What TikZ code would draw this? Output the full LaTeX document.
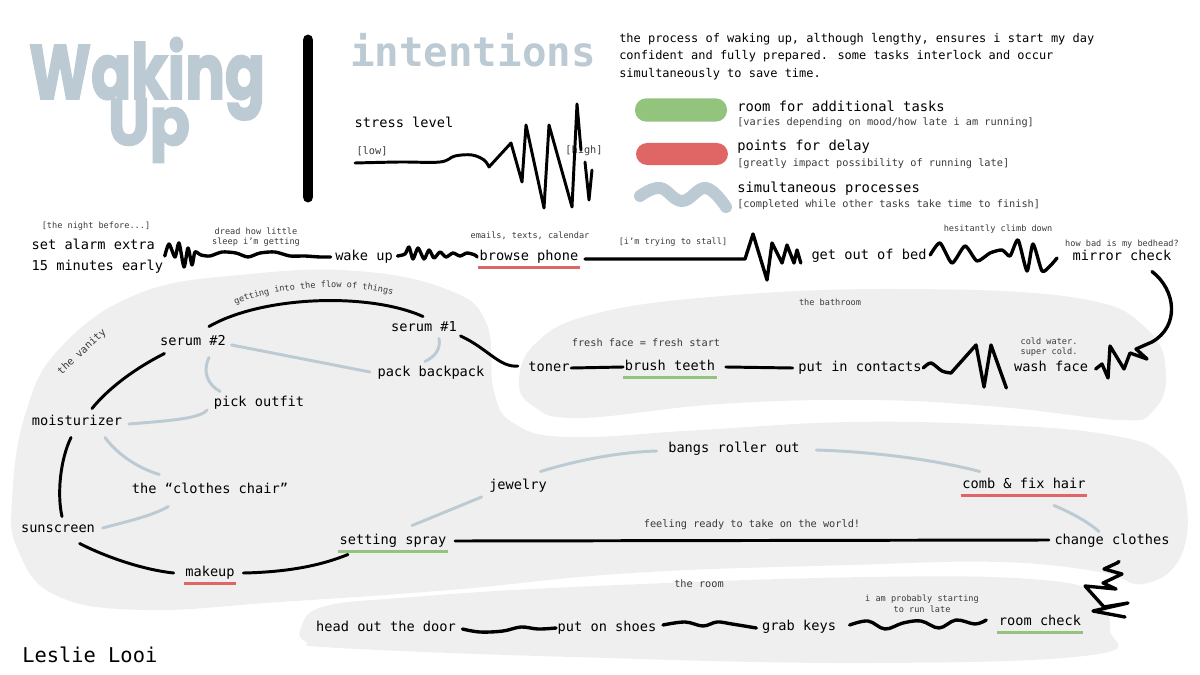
\documentclass[tikz,border=0pt]{standalone}
\usepackage{fontspec}
\setmainfont{DejaVu Sans Mono}
\newfontfamily\titlefont{Poppins}[BoldFeatures={FakeBold=2.5}]
\usetikzlibrary{decorations.text}

\definecolor{simblue}{HTML}{BCCAD3}
\definecolor{extragreen}{HTML}{93C47D}
\definecolor{delayred}{HTML}{E06666}
\definecolor{blobgray}{HTML}{EFEFEF}
\definecolor{notegray}{HTML}{3A3A3A}

\tikzset{
  lbl/.style={font=\fontsize{9.7}{15}\selectfont, inner sep=1pt},
  task/.style={lbl, text height=7.5pt, text depth=2.2pt},
  note/.style={font=\fontsize{6.1}{7.6}\selectfont, text=notegray, align=center, inner sep=1pt},
  bignote/.style={note, font=\fontsize{7.3}{9}\selectfont},
  legendtitle/.style={font=\fontsize{9.8}{11}\selectfont, anchor=west, inner sep=0pt},
  legendsub/.style={font=\fontsize{7.3}{9}\selectfont, text=notegray, anchor=west, inner sep=0pt},
  pill/.style={rounded corners=0.28cm, minimum width=2.3cm, minimum height=0.58cm, inner sep=0pt},
  flowline/.style={line width=2.1pt, line cap=round, line join=round},
  scribble/.style={line width=2.4pt, line cap=round, line join=round},
  simul/.style={draw=simblue, line width=2.1pt, line cap=round},
  extraline/.style={draw=extragreen, line width=2.1pt},
  delayline/.style={draw=delayred, line width=2.1pt},
}

\begin{document}
\begin{tikzpicture}[x=0.025cm, y=-0.025cm]
  \useasboundingbox (0,0) rectangle (1200,675);

  % draw the rooms
  \fill[blobgray] plot[smooth cycle, tension=0.7] coordinates {(12,500) (25,415) (60,348) (140,293) (250,274) (357,271) (446,289) (486,322) (494,392) (515,424) (570,437) (700,430) (850,422) (1000,425) (1110,435) (1163,455) (1186,500) (1180,558) (1143,584) (1100,572) (1000,562) (850,565) (632,573) (450,590) (280,602) (143,610) (55,595) (18,550)};
  \fill[blobgray] plot[smooth cycle, tension=0.7] coordinates {(519,380) (536,343) (590,315) (710,297) (893,289) (1077,298) (1148,330) (1166,377) (1152,412) (1120,420) (1000,407) (870,400) (720,404) (580,418) (533,406)};
  \fill[blobgray] plot[smooth cycle, tension=0.7] coordinates {(301,628) (322,607) (400,598) (573,587) (867,577) (1043,580) (1096,597) (1110,630) (1092,655) (867,663) (573,657) (339,648) (306,642)};

  % draw title block
  \node[font=\titlefont\bfseries\fontsize{42}{42}\selectfont, text=simblue, anchor=base] (title) at (147,99) {\scalebox{1}[1.3]{Waking}};
  \node[font=\titlefont\bfseries\fontsize{42}{42}\selectfont, text=simblue, anchor=base] (titleup) at (149,145) {\scalebox{1}[1.12]{Up}};
  \draw[line width=7.8pt, line cap=round] (308,40) -- (308,197);
  \node[font=\bfseries\fontsize{29}{30}\selectfont, text=simblue, inner sep=0pt] (intentions) at (473,50) {intentions};

  % draw stress scale
  \node[lbl] (stress) at (404,122) {stress level};
  \node[font=\fontsize{7.3}{9}\selectfont, text=notegray, inner sep=0pt] (low) at (372,151) {[low]};
  \node[font=\fontsize{7.3}{9}\selectfont, text=notegray, inner sep=0pt] (high) at (584,151) {[high]};
  \draw[line width=2.1pt, line cap=round, line join=round] plot[smooth, tension=0.6] coordinates {(355,163) (400,162) (440,162) (455,156) (472,155) (484,160) (489,167)} -- (511,143) -- (522,182) -- (526,125) -- (544,208) -- (549,125) -- (572,207) -- (577,104) -- (581,150);
  \draw[line width=2.1pt, line cap=round, line join=round] (585,162) -- (589,200) -- (592,170);

  % draw description and legend
  \node[font=\fontsize{8.5}{12.4}\selectfont, anchor=north west, align=left, inner sep=0pt] (desc) at (619,33) {the process of waking up, although lengthy, ensures i start my day\\confident and fully prepared. some tasks interlock and occur\\simultaneously to save time.};
  \node[pill, fill=extragreen] (pillgreen) at (681,110) {};
  \node[pill, fill=delayred, minimum height=0.55cm] (pillred) at (682,154) {};
  \draw[simul, line width=8.5pt] plot[smooth, tension=0.7] coordinates {(640,196) (660,188) (682,201) (706,188) (726,207)};
  \node[legendtitle] (extratitle) at (737,106) {room for additional tasks};
  \node[legendsub] (extrasub) at (737,123) {[varies depending on mood/how late i am running]};
  \node[legendtitle] (delaytitle) at (737,147) {points for delay};
  \node[legendsub] (delaysub) at (737,164) {[greatly impact possibility of running late]};
  \node[legendtitle] (simtitle) at (737,189) {simultaneous processes};
  \node[legendsub] (simsub) at (737,205) {[completed while other tasks take time to finish]};

  % draw the night before and the bedroom
  \node[note] (nightbefore) at (96,226) {[the night before...]};
  \node[lbl, align=left, anchor=west] (alarm) at (30,256) {set alarm extra\\15 minutes early};
  \node[note] (dread) at (256,237) {dread how little\\sleep i’m getting};
  \node[task] (wake) at (364,257) {wake up};
  \node[note] (emails) at (530,236) {emails, texts, calendar};
  \node[task] (browse) at (529,257) {browse phone};
  \node[note] (stall) at (673,242) {[i’m trying to stall]};
  \node[task] (bed) at (869,256) {get out of bed};
  \node[note] (climb) at (998,229) {hesitantly climb down};
  \node[note] (bedhead) at (1122,244) {how bad is my bedhead?};
  \node[task] (mirror) at (1122,257) {mirror check};

  % draw the bathroom
  \node[note] (bathroom) at (830,302) {the bathroom};
  \node[bignote] (fresh) at (646,343) {fresh face = fresh start};
  \node[task] (toner) at (549,368) {toner};
  \node[task] (brush) at (670,367) {brush teeth};
  \node[task] (contacts) at (860,368) {put in contacts};
  \node[note] (coldwater) at (1049,347) {cold water.\\super cold.};
  \node[task] (wash) at (1051,368) {wash face};

  % draw the vanity
  \node[bignote, rotate=43] (vanity) at (82,352) {the vanity};
  \node[task] (serumtwo) at (193,342) {serum \#2};
  \node[task] (serumone) at (424,328) {serum \#1};
  \node[task] (backpack) at (431,373) {pack backpack};
  \node[task] (outfit) at (259,403) {pick outfit};
  \node[task] (moist) at (77,422) {moisturizer};
  \node[task] (chair) at (210,490) {the “clothes chair”};
  \node[task] (sunscreen) at (58,529) {sunscreen};
  \node[task] (makeup) at (210,573) {makeup};
  \node[task] (spray) at (393,541) {setting spray};
  \node[task] (jewelry) at (518,486) {jewelry};
  \node[task] (bangs) at (734,449) {bangs roller out};
  \node[task] (comb) at (1024,485) {comb \& fix hair};
  \node[bignote] (world) at (752,525) {feeling ready to take on the world!};
  \node[task] (change) at (1112,541) {change clothes};

  % draw the room
  \node[bignote] (theroom) at (699,584) {the room};
  \node[note] (late) at (922,604) {i am probably starting\\to run late};
  \node[task] (door) at (386,628) {head out the door};
  \node[task] (shoes) at (607,628) {put on shoes};
  \node[task] (keys) at (799,627) {grab keys};
  \node[task] (check) at (1040,622) {room check};

  \node[font=\fontsize{14.5}{16}\selectfont, anchor=west, inner sep=0pt] (author) at (22,655) {Leslie Looi};

  % underline extra and delay tasks
  \draw[delayline] ([yshift=-1.6pt]browse.south west) -- ([yshift=-1.6pt]browse.south east);
  \draw[extraline] ([yshift=-1.6pt]brush.south west) -- ([yshift=-1.6pt]brush.south east);
  \draw[delayline] ([yshift=-1.6pt]makeup.south west) -- ([yshift=-1.6pt]makeup.south east);
  \draw[extraline] ([yshift=-1.6pt]spray.south west) -- ([yshift=-1.6pt]spray.south east);
  \draw[delayline] ([yshift=-1.6pt]comb.south west) -- ([yshift=-1.6pt]comb.south east);
  \draw[extraline] ([yshift=-1.6pt]check.south west) -- ([yshift=-1.6pt]check.south east);

  % draw scribbles between the morning steps
  \draw[scribble] plot[smooth, tension=0.45] coordinates {(alarm.east) (169,244) (175,257) (179,243) (184,267) (188,248) (192,265) (195,252) (201,255) (210,256) (222,252) (236,253) (248,257) (260,253) (275,252) (290,256) (305,256) (320,257) ([shift={(-3,0)}]wake.west)};
  \draw[scribble] plot[smooth, tension=0.45] coordinates {([shift={(3,-1)}]wake.east) (405,254) (409,247) (413,259) (418,248) (424,259) (429,250) (434,258) (440,252) (446,257) (453,253) (460,256) (467,253) (475,255) ([shift={(-1,0)}]browse.west)};
  \draw[scribble] ([shift={(5,2)}]browse.east) -- (745,259) -- (753,234) -- (767,280) -- (772,243) -- (782,263) -- (787,245) -- (794,263) -- (797,250) -- ([shift={(-9,7)}]bed.west);
  \draw[scribble] plot[smooth, tension=0.4] coordinates {([shift={(2,-1)}]bed.east) (940,243) (952,263) (965,246) (977,261) (990,253) (1002,250) (1010,256) (1018,240) (1027,271) (1033,244) (1042,271) (1050,266) ([shift={(-14,1)}]mirror.west)};
  \draw[scribble] ([shift={(30,6)}]mirror.south) .. controls (1176,290) and (1180,326) .. (1152,342) -- (1136,349) -- (1147,359) -- (1130,353) -- (1124,369) -- (1110,346) -- (1108,378) -- (1102,364) -- ([shift={(6,1)}]wash.east);
  \draw[scribble] plot[smooth, tension=0.5] coordinates {(contacts.east) (931,363) (942,371) (951,373)} -- (976,345) -- (984,387) -- (991,345) -- ([shift={(-6,20)}]wash.west);
  \draw[flowline] (toner.east) -- (brush.west);
  \draw[flowline] ([shift={(9,0)}]brush.east) -- ([shift={(-4,0)}]contacts.west);

  % draw the vanity routine
  \draw[flowline] ([shift={(16,-7)}]serumtwo.north) .. controls (262,296) and (368,292) .. ([shift={(-1,-3)}]serumone.north);
  \draw[flowline] ([shift={(2,8)}]serumone.east) .. controls (487,348) and (500,368) .. ([shift={(-9,-2)}]toner.west);
  \draw[flowline] ([shift={(6,3)}]serumtwo.south west) .. controls (132,370) and (107,390) .. ([shift={(15,-5)}]moist.north);
  \draw[flowline] ([shift={(-6,7)}]moist.south) .. controls (60,460) and (57,495) .. ([shift={(4,-4)}]sunscreen.north);
  \draw[flowline] ([shift={(-17,6)}]sunscreen.south east) .. controls (108,558) and (145,570) .. ([shift={(-10,0)}]makeup.west);
  \draw[flowline] ([shift={(7,0)}]makeup.east) .. controls (290,572) and (322,565) .. ([shift={(10,5)}]spray.south west);
  \draw[flowline] ([shift={(7,0)}]spray.east) -- ([shift={(-4,-1)}]change.west);
  \path[decorate, decoration={text along path, text align=center, text={|\fontsize{6.1}{7}\selectfont\color{notegray}|getting into the flow of things}}] (232,306) .. controls (280,285) and (350,282) .. (396,296);

  % draw simultaneous processes
  \draw[simul] ([shift={(4,3)}]serumtwo.east) -- ([shift={(-6,-1)}]backpack.west);
  \draw[simul] ([shift={(16,7)}]serumtwo.south) .. controls (202,372) and (208,385) .. ([shift={(8,-3)}]outfit.north west);
  \draw[simul] ([shift={(15,2)}]serumone.south) .. controls (441,350) and (434,357) .. ([shift={(-6,-3)}]backpack.north);
  \draw[simul] ([shift={(-5,7)}]outfit.west) .. controls (200,419) and (165,421) .. ([shift={(5,2)}]moist.east);
  \draw[simul] ([shift={(28,7)}]moist.south) .. controls (118,455) and (138,468) .. ([shift={(29,-7)}]chair.north west);
  \draw[simul] ([shift={(38,8)}]chair.south west) .. controls (152,516) and (125,522) .. ([shift={(6,-1)}]sunscreen.east);
  \draw[simul] ([shift={(19,-7)}]spray.north) .. controls (438,515) and (462,505) .. ([shift={(-6,11)}]jewelry.west);
  \draw[simul] ([shift={(-8,-6)}]jewelry.north east) .. controls (578,460) and (620,452) .. ([shift={(-10,2)}]bangs.west);
  \draw[simul] ([shift={(15,1)}]bangs.east) .. controls (880,452) and (940,461) .. ([shift={(19,-5)}]comb.north west);
  \draw[simul] ([shift={(30,12)}]comb.south) .. controls (1072,513) and (1088,522) .. ([shift={(-13,-1)}]change.north);

  % draw the way out
  \draw[scribble] ([shift={(7,12)}]change.south) -- (1117,563) -- (1104,569) -- (1122,574) -- (1103,583) -- (1116,589) -- (1085,586) -- (1104,607) -- (1128,603) -- (1093,611) -- (1125,617);
  \draw[scribble] plot[smooth, tension=0.6] coordinates {([shift={(12,-2)}]keys.east) (868,621) (885,629) (903,623) (921,621) (939,628) (956,620) (975,624) ([shift={(-11,-2)}]check.west)};
  \draw[scribble] plot[smooth, tension=0.6] coordinates {([shift={(5,-3)}]shoes.east) (685,622) (703,626) (717,622) (732,624) ([shift={(-4,1)}]keys.west)};
  \draw[scribble] plot[smooth, tension=0.6] coordinates {([shift={(5,1)}]door.east) (480,632) (503,631) (521,627) (538,629) (shoes.west)};
\end{tikzpicture}
\end{document}
